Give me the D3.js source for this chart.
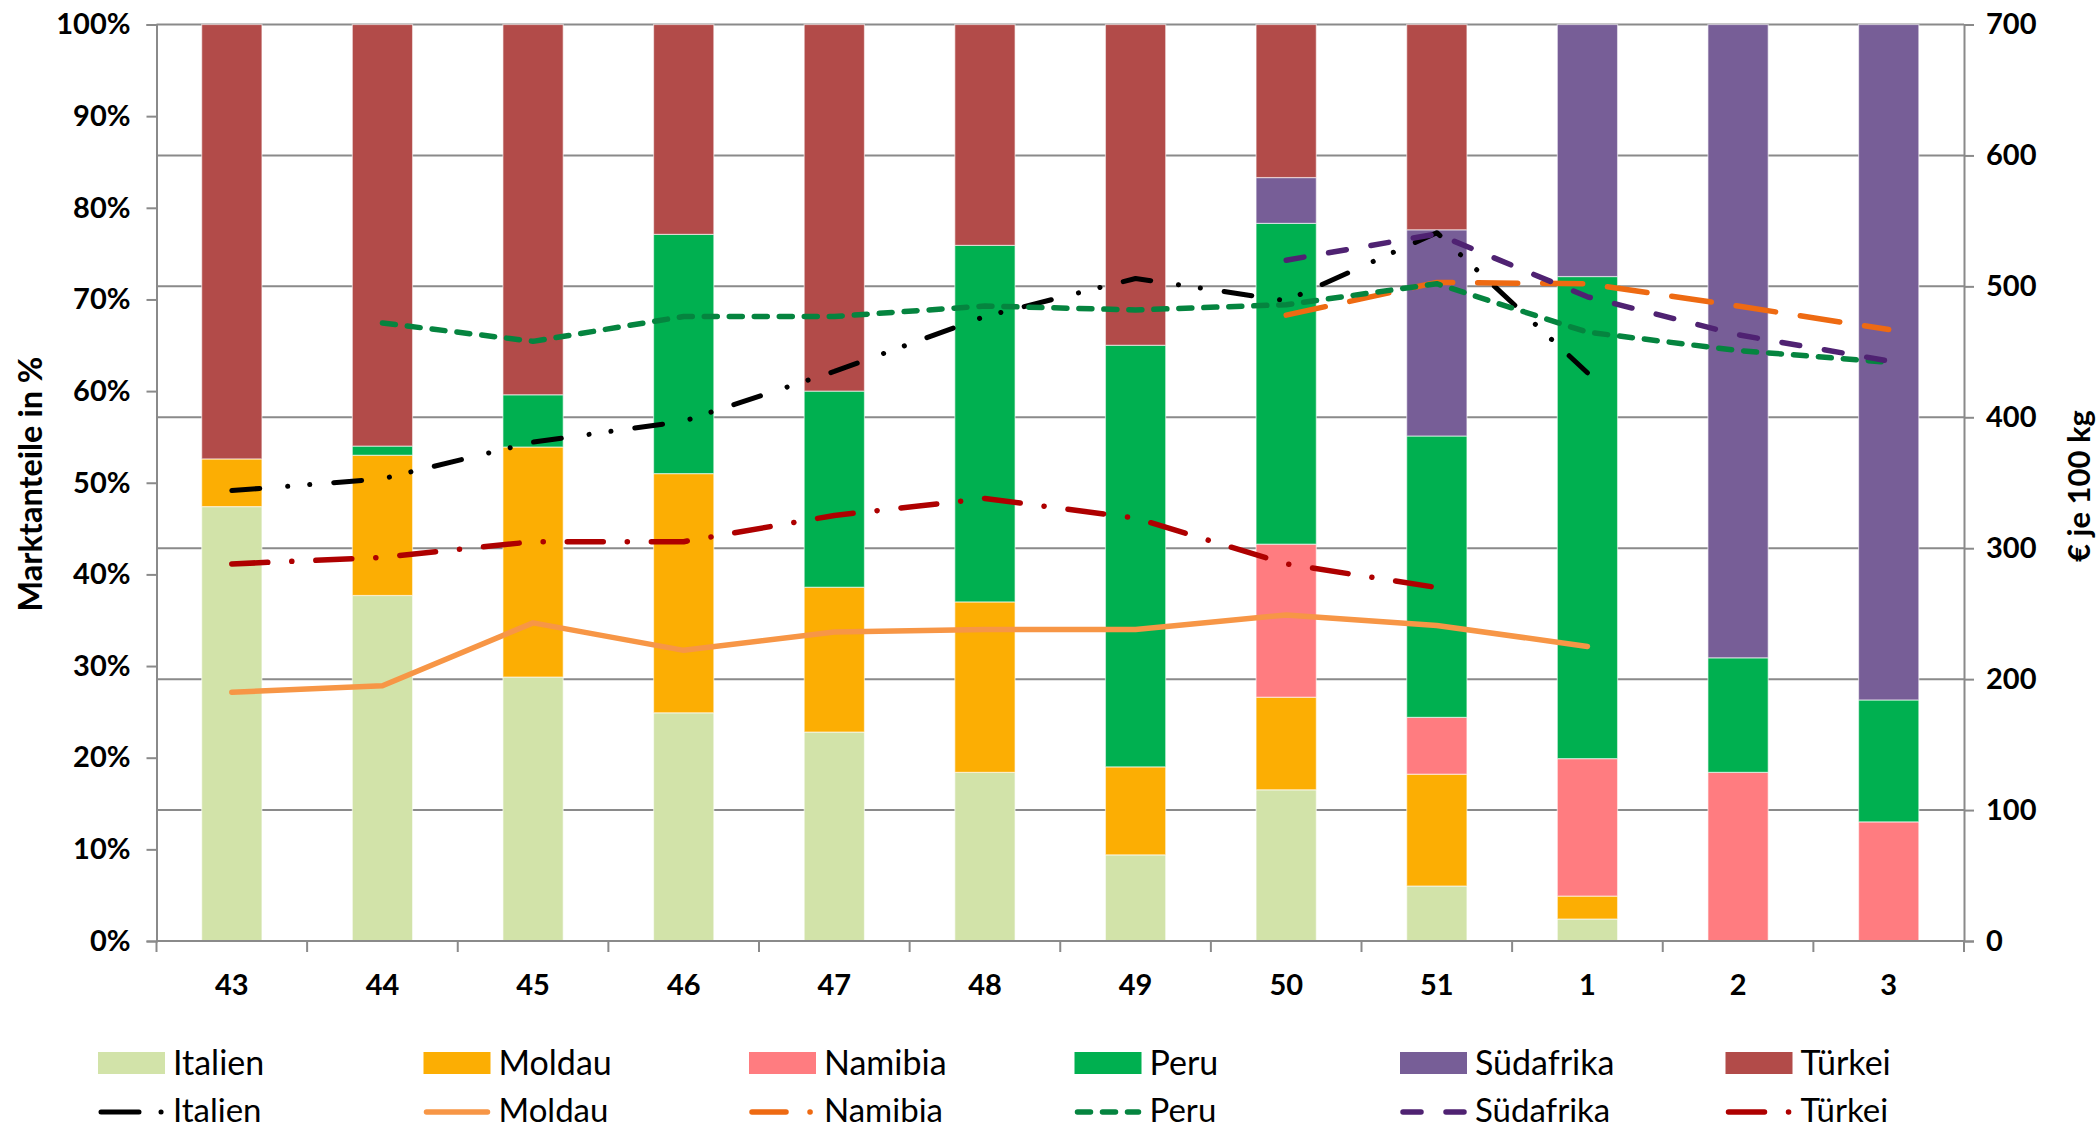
<!DOCTYPE html>
<html>
<head>
<meta charset="utf-8">
<script src="https://cdn.jsdelivr.net/npm/d3@7"></script>
<style>
  html, body { margin: 0; padding: 0; background: #ffffff; }
  svg text { font-family: Lato, "Open Sans", "DejaVu Sans", sans-serif; fill: #000; }
</style>
</head>
<body>
<svg id="chart" width="2098" height="1131"></svg>
<script>
// Calendar weeks (43 .. 3)
const weeks = ["43", "44", "45", "46", "47", "48", "49", "50", "51", "1", "2", "3"];

// Market shares in % (stacked bars, bottom to top)
const shareItalien    = [47.4, 37.7, 28.8, 24.9, 22.8, 18.4,  9.4, 16.5,  6.0,  2.4,  0.0,  0.0];
const shareMoldau     = [ 5.2, 15.3, 25.1, 26.1, 15.8, 18.6,  9.6, 10.1, 12.2,  2.5,  0.0,  0.0];
const shareNamibia    = [ 0.0,  0.0,  0.0,  0.0,  0.0,  0.0,  0.0, 16.7,  6.2, 15.0, 18.4, 13.0];
const sharePeru       = [ 0.0,  1.0,  5.7, 26.1, 21.4, 38.9, 46.0, 35.0, 30.7, 52.6, 12.5, 13.3];
const shareSuedafrika = [ 0.0,  0.0,  0.0,  0.0,  0.0,  0.0,  0.0,  5.0, 22.5, 27.5, 69.1, 73.7];
const shareTuerkei    = [47.4, 46.0, 40.4, 22.9, 40.0, 24.1, 35.0, 16.7, 22.4,  0.0,  0.0,  0.0];

// Prices in € per 100 kg (lines, right axis); null = no quotation
const priceItalien    = [344, 353, 381, 397, 435, 477, 506, 489, 541, 434, null, null];
const priceMoldau     = [190, 195, 243, 222, 236, 238, 238, 249, 241, 225, null, null];
const priceNamibia    = [null, null, null, null, null, null, null, 478, 503, 502, 485, 467];
const pricePeru       = [null, 472, 458, 477, 477, 485, 482, 486, 502, 465, 451, 442];
const priceSuedafrika = [null, null, null, null, null, null, null, 520, 540, 492, 463, 443];
const priceTuerkei    = [288, 293, 305, 305, 325, 338, 323, 288, 270, null, null, null];

// Axis ticks
const shareTicks = [0, 10, 20, 30, 40, 50, 60, 70, 80, 90, 100];
const priceTicks = [0, 100, 200, 300, 400, 500, 600, 700];

const countries = ["Italien", "Moldau", "Namibia", "Peru", "Südafrika", "Türkei"];
const shareSeries = [shareItalien, shareMoldau, shareNamibia, sharePeru, shareSuedafrika, shareTuerkei];
const priceSeries = [priceItalien, priceMoldau, priceNamibia, pricePeru, priceSuedafrika, priceTuerkei];

// Styling
const barColors  = ["#D2E3A9", "#FCAE03", "#FF7C80", "#00B050", "#775E97", "#B24B49"];
const lineColors = ["#000000", "#F79646", "#EE6A12", "#05843F", "#4F2272", "#AE0000"];
const lineDash   = ["28,28,0.1,22,0.1,24", null, "40,25", "13,12", "18,25", "36,24,0.1,24"];
const legendDash = ["38,22,0.1,40", null, "34,24,0.1,40", "13,12", "18,25", "36,24,0.1,24"];
const lineWidth  = [5, 5.5, 5.5, 5.5, 5.5, 5.5];
const gridColor  = "#8A8A8A";

const svg = d3.select("#chart");
const plot = { left: 156.5, right: 1964, top: 24.5, bottom: 941 };

const x = d3.scaleBand().domain(weeks).range([plot.left, plot.right])
  .paddingInner(0.6).paddingOuter(0.3);
const yShare = d3.scaleLinear().domain([0, 100]).range([plot.bottom, plot.top]);
const yPrice = d3.scaleLinear().domain([0, 700]).range([plot.bottom, plot.top]);

// Horizontal gridlines follow the price axis
svg.append("g").selectAll("line")
  .data(priceTicks.filter(d => d > 0))
  .join("line")
  .attr("x1", plot.left).attr("x2", plot.right)
  .attr("y1", d => yPrice(d)).attr("y2", d => yPrice(d))
  .attr("stroke", gridColor).attr("stroke-width", 2);

// Stacked share bars
const rows = weeks.map((w, i) => {
  const r = { week: w };
  countries.forEach((c, k) => { r[c] = shareSeries[k][i]; });
  return r;
});
const stacked = d3.stack().keys(countries)(rows);

svg.append("g").selectAll("g")
  .data(stacked)
  .join("g")
  .attr("fill", (d, k) => barColors[k])
  .selectAll("rect")
  .data(d => d.filter(s => s[1] - s[0] > 0))
  .join("rect")
  .attr("x", s => x(s.data.week))
  .attr("width", x.bandwidth())
  .attr("y", s => yShare(s[1]))
  .attr("height", s => yShare(s[0]) - yShare(s[1]))
  .attr("stroke", "#ffffff").attr("stroke-width", 1.2).attr("stroke-opacity", 0.55);

// Left axis (shares)
const axisL = svg.append("g")
  .attr("transform", `translate(${plot.left},0)`)
  .call(d3.axisLeft(yShare).tickValues(shareTicks).tickSize(10).tickPadding(16)
    .tickFormat(d => d + "%"));

// Right axis (prices)
const axisR = svg.append("g")
  .attr("transform", `translate(${plot.right},0)`)
  .call(d3.axisRight(yPrice).tickValues(priceTicks).tickSize(10).tickPadding(12));

// Bottom axis: labels centred under the bars, tick marks on band boundaries
const axisB = svg.append("g")
  .attr("transform", `translate(0,${plot.bottom})`)
  .call(d3.axisBottom(x).tickSize(0).tickPadding(33));

const step = x.step();
const boundaries = d3.range(weeks.length + 1).map(i => plot.left + i * step);
svg.append("g").selectAll("line")
  .data(boundaries)
  .join("line")
  .attr("x1", d => d).attr("x2", d => d)
  .attr("y1", plot.bottom).attr("y2", plot.bottom + 11)
  .attr("stroke", gridColor).attr("stroke-width", 2);

[axisL, axisR, axisB].forEach(g => {
  g.selectAll(".domain").attr("stroke", gridColor).attr("stroke-width", 2);
  g.selectAll(".tick line").attr("stroke", gridColor).attr("stroke-width", 2);
  g.selectAll(".tick text")
    .attr("font-family", "Lato, 'Open Sans', sans-serif")
    .attr("font-size", 29).attr("font-weight", 700).attr("fill", "#000");
});
axisB.select(".domain").attr("d", `M${plot.left},0H${plot.right}`);

// Price lines
const priceLine = d3.line()
  .defined(d => d.v != null)
  .x(d => x(d.w) + x.bandwidth() / 2)
  .y(d => yPrice(d.v));

svg.append("g").selectAll("path")
  .data(priceSeries.map((s, k) => ({ k, pts: weeks.map((w, i) => ({ w, v: s[i] })) })))
  .join("path")
  .attr("d", d => priceLine(d.pts))
  .attr("fill", "none")
  .attr("stroke", d => lineColors[d.k])
  .attr("stroke-width", d => lineWidth[d.k])
  .attr("stroke-dasharray", d => lineDash[d.k])
  .attr("stroke-linecap", "round")
  .attr("stroke-linejoin", "round");

// Axis titles
svg.append("text")
  .attr("transform", `translate(29,484) rotate(-90)`)
  .attr("text-anchor", "middle").attr("dominant-baseline", "central")
  .attr("font-size", 32.5).attr("font-weight", 700)
  .text("Marktanteile in %");

svg.append("text")
  .attr("transform", `translate(2078,486) rotate(-90)`)
  .attr("text-anchor", "middle").attr("dominant-baseline", "central")
  .attr("font-size", 31).attr("font-weight", 700)
  .text("€ je 100 kg");

// Legend: bars in the first row, price lines in the second
const legendX = countries.map((c, i) => 98 + i * 325.5);
const legend = svg.append("g");

const barItems = legend.selectAll("g.bar-item")
  .data(countries)
  .join("g").attr("class", "bar-item")
  .attr("transform", (d, i) => `translate(${legendX[i]},1063)`);
barItems.append("rect")
  .attr("x", 0).attr("y", -11).attr("width", 67).attr("height", 22)
  .attr("fill", (d, i) => barColors[i]);
barItems.append("text")
  .attr("x", 75).attr("y", -2).attr("dominant-baseline", "central")
  .attr("font-size", 34)
  .text(d => d);

const lineItems = legend.selectAll("g.line-item")
  .data(countries)
  .join("g").attr("class", "line-item")
  .attr("transform", (d, i) => `translate(${legendX[i]},1112)`);
lineItems.append("line")
  .attr("x1", 3).attr("x2", 64).attr("y1", 0).attr("y2", 0)
  .attr("stroke", (d, i) => lineColors[i])
  .attr("stroke-width", (d, i) => lineWidth[i])
  .attr("stroke-dasharray", (d, i) => legendDash[i])
  .attr("stroke-linecap", "round");
lineItems.append("text")
  .attr("x", 75).attr("y", -3).attr("dominant-baseline", "central")
  .attr("font-size", 33)
  .text(d => d);
</script>
</body>
</html>
